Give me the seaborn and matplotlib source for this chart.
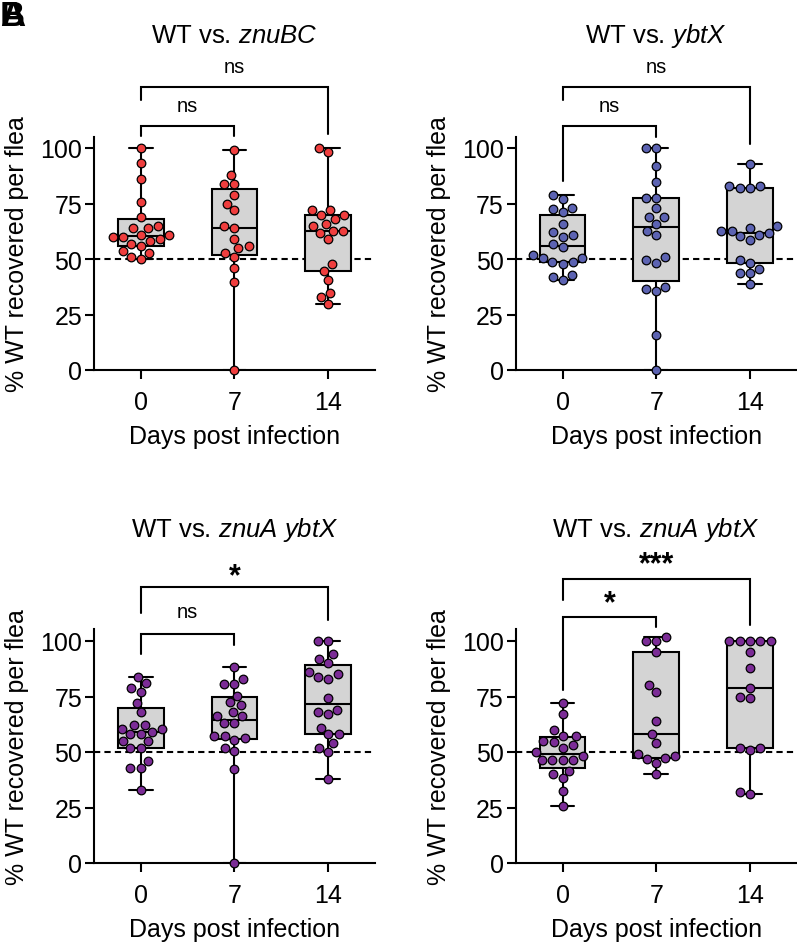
import numpy as np
import pandas as pd
import seaborn as sns
import matplotlib.pyplot as plt

# --- values (% WT recovered per flea) ---
days = [0, 7, 14]

znubc_d0 = [100, 93.1, 86.0, 75.9, 68.9, 65.0, 64.0, 64.0, 60.9, 60.9,
            59.8, 59.8, 58.9, 57.9, 56.8, 55.8, 53.8, 52.7, 50.8, 49.9]
znubc_d7 = [99.0, 87.9, 83.8, 83.8, 79.0, 74.9, 71.9, 64.8, 63.9, 58.9,
            55.8, 54.9, 52.7, 50.8, 45.8, 39.6, 0]
znubc_d14 = [100, 98.0, 71.9, 71.9, 69.9, 69.9, 67.8, 65.9, 65.0, 62.8,
             62.8, 61.8, 58.9, 47.8, 44.8, 40.7, 34.7, 32.7, 29.7]

ybtx_d0 = [79.0, 77.2, 73.1, 72.6, 71.2, 65.9, 62.1, 61.0, 60.1, 56.8,
           55.3, 51.7, 50.5, 50.5, 48.7, 48.7, 47.7, 42.7, 41.7, 40.6]
ybtx_d7 = [100, 100, 92.0, 84.8, 77.7, 77.7, 72.8, 68.7, 68.7, 65.7,
           62.7, 60.8, 50.7, 49.6, 48.4, 37.6, 36.7, 35.6, 15.6, 0]
ybtx_d14 = [92.9, 82.7, 82.7, 81.8, 81.8, 64.7, 63.9, 62.7, 62.7, 61.7,
            60.8, 60.2, 58.6, 49.6, 48.4, 45.7, 43.6, 43.6, 38.6]

znua_ybtx_d0 = [84.0, 81.0, 79.0, 77.1, 72.0, 67.8, 62.1, 62.1, 60.3, 60.3,
                59.1, 58.0, 58.0, 55.0, 55.0, 52.0, 52.0, 46.0, 43.0, 43.0, 33.0]
znua_ybtx_d7 = [88.5, 83.1, 80.5, 80.5, 75.3, 72.3, 71.1, 68.1, 66.0, 66.0,
                63.0, 63.0, 57.0, 57.0, 56.1, 55.5, 52.0, 50.5, 42.3, 0]
znua_ybtx_d14 = [100, 100, 94.0, 92.1, 90.0, 86.1, 85.0, 84.0, 83.1, 74.1,
                 69.0, 67.8, 67.0, 61.0, 58.0, 58.0, 54.0, 52.0, 50.1, 37.8]

znua_ybtx2_d0 = [72.0, 67.0, 60.0, 57.3, 57.3, 55.0, 54.3, 53.1, 52.0, 50.1,
                 48.0, 46.5, 46.5, 46.5, 46.5, 41.5, 40.0, 38.1, 32.5, 25.5]
znua_ybtx2_d7 = [101.9, 100, 100, 95.1, 80.1, 77.1, 64.0, 58.0, 54.0, 49.0,
                 48.0, 47.1, 46.8, 45.0, 40.0]
znua_ybtx2_d14 = [100, 100, 100, 100, 100, 95.1, 88.0, 79.0, 75.0, 74.1,
                  52.0, 52.0, 51.0, 32.1, 31.0]

titles = [r'WT vs. $\it{znuBC}$', r'WT vs. $\it{ybtX}$',
          r'WT vs. $\it{znuA\ ybtX}$', r'WT vs. $\it{znuA\ ybtX}$']
groups = [[znubc_d0, znubc_d7, znubc_d14],
          [ybtx_d0, ybtx_d7, ybtx_d14],
          [znua_ybtx_d0, znua_ybtx_d7, znua_ybtx_d14],
          [znua_ybtx2_d0, znua_ybtx2_d7, znua_ybtx2_d14]]
labels = [['ns', 'ns'], ['ns', 'ns'], ['ns', '*'], ['*', '***']]

# --- style ---
colors = ['#ef3e3e', '#5c63b2', '#7b2c96', '#7b2c96']
# bracket geometry: (x0, x1, y_line, y_end0, y_end1, y_text) for inner / outer
brackets = [
    [(0, 1, 109.7, 105.6, 105.6, 116.8), (0, 2, 127.3, 121.6, 106.5, 134.1)],
    [(0, 1, 109.7, 85.0, 105.0, 116.8), (0, 2, 127.3, 121.6, 102.0, 134.1)],
    [(0, 1, 103.3, 94.0, 98.1, 110.6), (0, 2, 124.2, 112.5, 109.4, 125.7)],
    [(0, 1, 110.8, 78.0, 106.2, 113.5), (0, 2, 127.8, 118.4, 107.1, 130.9)],
]
W, H = 797, 945
rects = [(94, 138, 371), (515.7, 138, 371), (94, 630, 864), (515.7, 630, 864)]
title_base = [42.7, 42.7, 536.7, 536.7]

sns.set_theme(style='ticks')
plt.rcParams['font.family'] = ['Liberation Sans', 'DejaVu Sans']
plt.rcParams['text.color'] = 'black'
plt.rcParams['mathtext.fontset'] = 'custom'
plt.rcParams['mathtext.rm'] = 'Liberation Sans'
plt.rcParams['mathtext.it'] = 'Liberation Sans:italic'


def prism_stats(vals):
    v = np.asarray(vals, float)
    q1, med, q3 = np.percentile(v, [25, 50, 75], method='weibull')
    return dict(med=med, q1=q1, q3=q3, whislo=v.min(), whishi=v.max(), fliers=[])


fig = plt.figure(figsize=(W / 100, H / 100), dpi=100)

for i in range(4):
    left, top, bottom = rects[i]
    ax = fig.add_axes([left / W, 1 - bottom / H, 281 / W, (bottom - top) / H])
    df = pd.DataFrame({'day': np.repeat(days, [len(g) for g in groups[i]]),
                       'pct': np.concatenate(groups[i])})

    ax.axhline(50, color='black', lw=1.5, ls=(0, (3, 2)), zorder=1)
    ax.bxp([prism_stats(g) for g in groups[i]], positions=[0, 1, 2], widths=0.49,
           capwidths=0.25, patch_artist=True, showfliers=False, manage_ticks=False,
           boxprops=dict(facecolor='#d4d4d4', edgecolor='black', linewidth=1.5),
           whiskerprops=dict(color='black', linewidth=1.5),
           capprops=dict(color='black', linewidth=1.5),
           medianprops=dict(color='black', linewidth=1.5), zorder=2)
    sns.swarmplot(data=df, x='day', y='pct', order=days, color=colors[i],
                  size=6.2, edgecolor='black', linewidth=0.9, ax=ax, zorder=3)
    for c in ax.collections:
        c.set_clip_on(False)

    ax.set_xlim(-0.5, 2.5)
    ax.set_ylim(0, (bottom - top) * 100 / 222.0)
    ax.set_yticks([0, 25, 50, 75, 100])
    ax.set_xticks([0, 1, 2], ['0', '7', '14'])
    sns.despine(ax=ax)
    for s in ['left', 'bottom']:
        ax.spines[s].set_linewidth(1.5)
        ax.spines[s].set_color('black')
    ax.tick_params(axis='both', length=6.5, width=1.5, color='black',
                   labelsize=18, labelcolor='black')
    ax.tick_params(axis='x', pad=8)
    ax.tick_params(axis='y', pad=2)
    ax.set_xlabel('Days post infection', fontsize=18, labelpad=7, color='black')
    ax.set_ylabel('% WT recovered per flea', fontsize=18, labelpad=8, color='black')

    for (x0, x1, yl, e0, e1, yt), lab in zip(brackets[i], labels[i]):
        ax.plot([x0, x0, x1, x1], [e0, yl, yl, e1], color='black', lw=1.5,
                clip_on=False, solid_joinstyle='miter')
        if lab == 'ns':
            ax.text((x0 + x1) / 2, yt, lab, ha='center', va='baseline', fontsize=14.5)
        else:
            ax.text((x0 + x1) / 2, yt, lab, ha='center', va='baseline',
                    fontsize=22, fontweight='bold')

    fig.text((left + 140.5) / W, 1 - title_base[i] / H, titles[i],
             ha='center', va='baseline', fontsize=18.5)

# overlapping panel letters at top-left
for letter in ['A', 'B']:
    fig.text(0.0, 1.0, letter, ha='left', va='top', fontsize=25, fontweight='bold')

fig.savefig('out.png', dpi=100)
